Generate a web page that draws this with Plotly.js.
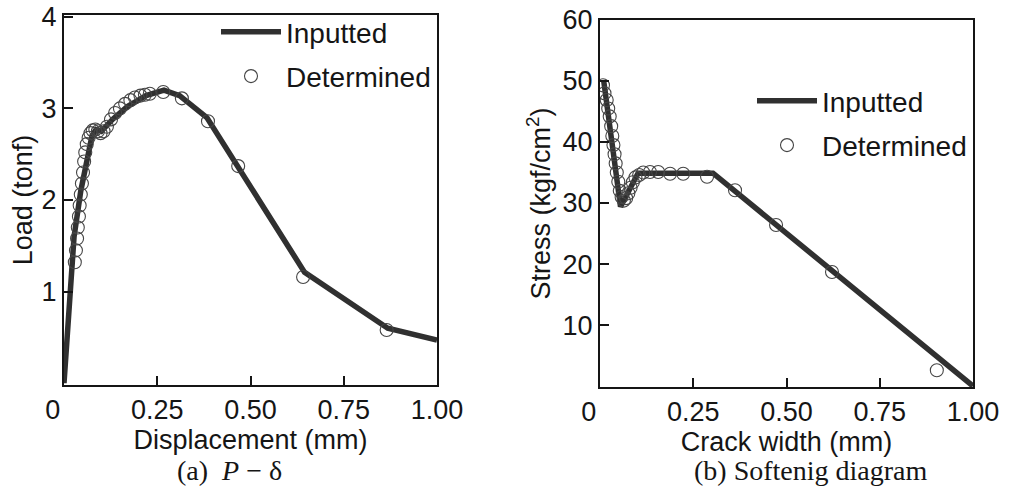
<!DOCTYPE html>
<html>
<head>
<meta charset="utf-8">
<script src="https://cdn.plot.ly/plotly-3.0.1.min.js"></script>
<style>
html,body{margin:0;padding:0;background:#fff;}
#chart{width:1014px;height:492px;}
</style>
</head>
<body>
<div id="chart"></div>
<script>
// (a) P - delta : Inputted line
const pdInputX = [0, 0.027, 0.045, 0.062, 0.075, 0.086, 0.1, 0.13, 0.17, 0.22, 0.268, 0.31, 0.383, 0.645, 0.868, 1.0];
const pdInputY = [0, 1.6, 2.1, 2.45, 2.7, 2.77, 2.75, 2.88, 3.02, 3.14, 3.2, 3.14, 2.9, 1.21, 0.6, 0.47];
// (a) P - delta : Determined points
const pdDetX = [0.029, 0.032, 0.035, 0.037, 0.04, 0.042, 0.045, 0.048, 0.051, 0.054, 0.057, 0.061, 0.066, 0.071, 0.077, 0.084, 0.091, 0.098, 0.106, 0.115, 0.126, 0.137, 0.15, 0.164, 0.178, 0.19, 0.205, 0.217, 0.23, 0.266, 0.316, 0.386, 0.467, 0.641, 0.865];
const pdDetY = [1.32, 1.45, 1.58, 1.7, 1.82, 1.94, 2.06, 2.18, 2.3, 2.42, 2.52, 2.61, 2.68, 2.73, 2.76, 2.77, 2.75, 2.73, 2.75, 2.8, 2.88, 2.95, 3.0, 3.05, 3.09, 3.12, 3.14, 3.15, 3.16, 3.18, 3.11, 2.86, 2.37, 1.16, 0.58];

// (b) Softening diagram : Inputted line
const sdInputX = [0.01, 0.055, 0.102, 0.303, 1.0];
const sdInputY = [50, 29.4, 34.9, 34.9, 0];
// (b) Softening diagram : Determined points
const sdDetX = [0.008, 0.012, 0.018, 0.022, 0.026, 0.03, 0.033, 0.036, 0.039, 0.042, 0.045, 0.049, 0.053, 0.058, 0.064, 0.07, 0.076, 0.082, 0.088, 0.095, 0.105, 0.116, 0.134, 0.156, 0.188, 0.223, 0.287, 0.362, 0.472, 0.622, 0.903];
const sdDetY = [49.3, 48, 46.9, 45.5, 44.2, 42.6, 41, 39.5, 38, 36.5, 35, 33.5, 32, 31, 30.4, 30.8, 31.6, 32.5, 33.4, 34.2, 34.6, 35, 35.1, 35.1, 34.8, 34.8, 34.3, 32.1, 26.4, 18.7, 2.6];

// tick labels
const pdYTicks = [1, 2, 3, 4];
const pdYText = ['1', '2', '3', '4'];
const xTicks = [0, 0.25, 0.5, 0.75, 1.0];
const xText = ['0\u00a0\u00a0\u00a0', '0.25', '0.50', '0.75', '1.00'];
const sdYTicks = [10, 20, 30, 40, 50, 60];
const sdYText = ['10', '20', '30', '40', '50', '60'];

const W = 1014, H = 492;
const sans = 'Liberation Sans, Arial, Helvetica, sans-serif';
const serif = 'Liberation Serif, Times New Roman, serif';
const ink = '#151515';
const lineCol = '#303030';
const markCol = '#454545';

function px(x){ return x / W; }
function py(y){ return 1 - y / H; }

const lineStyle = {color: lineCol, width: 5.5};
const markStyle = {symbol: 'circle-open', size: 13, color: markCol, line: {width: 1.1, color: markCol}};

const traces = [
  {x: pdInputX, y: pdInputY, xaxis: 'x', yaxis: 'y', mode: 'lines', name: 'Inputted', line: lineStyle, legend: 'legend', legendgroup: 'a1'},
  {x: pdDetX, y: pdDetY, xaxis: 'x', yaxis: 'y', mode: 'markers', name: 'Determined', marker: markStyle, legend: 'legend', legendgroup: 'a2'},
  {x: sdInputX, y: sdInputY, xaxis: 'x2', yaxis: 'y2', mode: 'lines', name: 'Inputted', line: lineStyle, legend: 'legend2', legendgroup: 'b1'},
  {x: sdDetX, y: sdDetY, xaxis: 'x2', yaxis: 'y2', mode: 'markers', name: 'Determined', marker: markStyle, legend: 'legend2', legendgroup: 'b2'}
];

const axBase = {
  showline: true, mirror: true, linecolor: ink, linewidth: 2,
  ticks: 'inside', ticklen: 9, tickwidth: 2, tickcolor: ink,
  showgrid: false, zeroline: false, automargin: false,
  tickfont: {family: sans, size: 27, color: ink},
  tickmode: 'array', fixedrange: true
};

const titleFont = {family: sans, size: 27, color: ink};

const layout = {
  width: W, height: H,
  margin: {l: 0, r: 0, t: 0, b: 0},
  paper_bgcolor: '#ffffff', plot_bgcolor: '#ffffff',
  font: {family: sans, color: ink},
  showlegend: true,
  xaxis: Object.assign({}, axBase, {
    domain: [px(64), px(437)], range: [0, 1], anchor: 'y',
    tickvals: xTicks, ticktext: xText,
    title: {text: 'Displacement (mm)', font: titleFont, standoff: 0}
  }),
  yaxis: Object.assign({}, axBase, {
    domain: [py(385), py(15)], range: [-0.02, 4.02], anchor: 'x',
    tickvals: pdYTicks, ticktext: pdYText,
    title: {text: 'Load (tonf)', font: titleFont, standoff: 1}
  }),
  xaxis2: Object.assign({}, axBase, {
    domain: [px(600), px(973)], range: [0, 1], anchor: 'y2',
    tickvals: xTicks, ticktext: xText,
    title: {text: 'Crack width (mm)', font: titleFont, standoff: 0}
  }),
  yaxis2: Object.assign({}, axBase, {
    domain: [py(387), py(20)], range: [-0.15, 60], anchor: 'x2',
    tickvals: sdYTicks, ticktext: sdYText,
    title: {text: 'Stress (kgf/cm<sup>2</sup>)', font: titleFont, standoff: 4}
  }),
  legend: {
    x: px(216), y: py(7), xanchor: 'left', yanchor: 'top',
    bgcolor: 'rgba(0,0,0,0)', borderwidth: 0,
    font: {family: sans, size: 28, color: ink},
    itemwidth: 60, tracegroupgap: 5, itemclick: false, itemdoubleclick: false
  },
  legend2: {
    x: px(752), y: py(76), xanchor: 'left', yanchor: 'top',
    bgcolor: 'rgba(0,0,0,0)', borderwidth: 0,
    font: {family: sans, size: 28, color: ink},
    itemwidth: 60, tracegroupgap: 5, itemclick: false, itemdoubleclick: false
  },
  annotations: [
    {text: '(a)  <i>P</i> \u2212 \u03b4', xref: 'paper', yref: 'paper', x: px(229), y: py(470), xanchor: 'center', yanchor: 'middle', showarrow: false, font: {family: serif, size: 28, color: ink}},
    {text: '(b) Softenig diagram', xref: 'paper', yref: 'paper', x: px(810), y: py(470), xanchor: 'center', yanchor: 'middle', showarrow: false, font: {family: serif, size: 28, color: ink}}
  ]
};

Plotly.newPlot('chart', traces, layout, {displayModeBar: false, staticPlot: true});
</script>
</body>
</html>
